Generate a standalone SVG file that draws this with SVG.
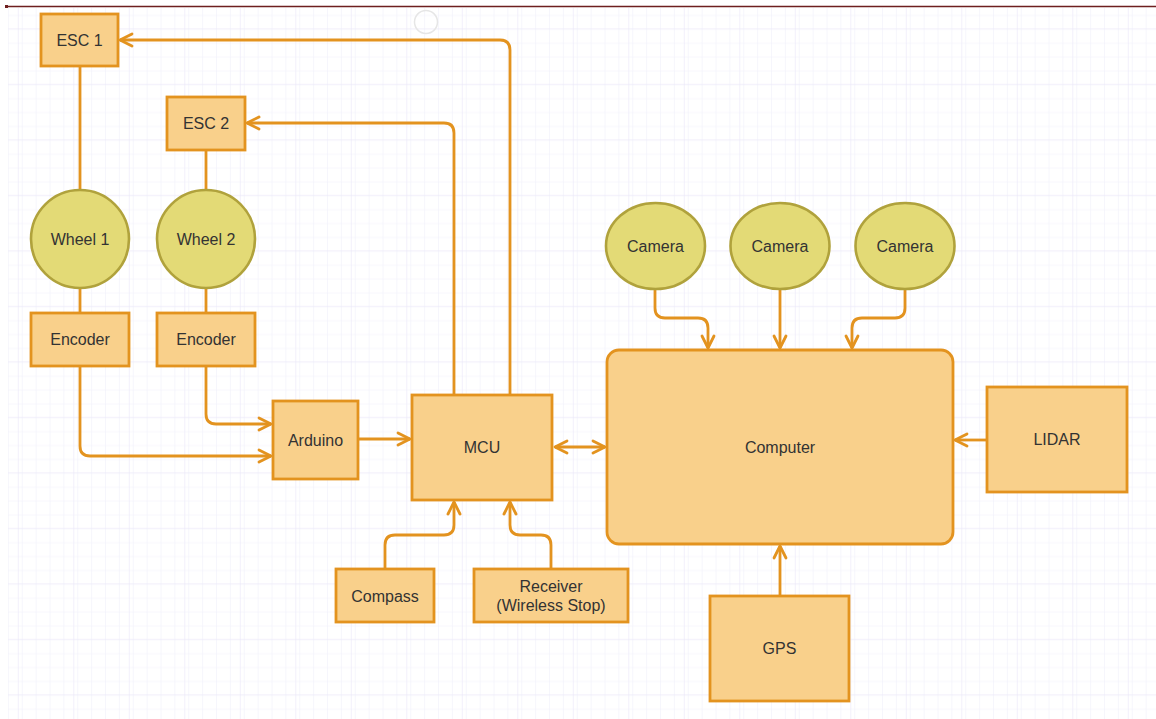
<svg xmlns="http://www.w3.org/2000/svg" width="1156" height="719" viewBox="0 0 1156 719">
  <style>
    .box { fill: #f9d08b; stroke: #e3931f; stroke-width: 2.8; }
    .round { fill: #e3da76; stroke: #b0a23c; stroke-width: 2.6; }
    .lbl { font-family: "Liberation Sans", Arial, sans-serif; font-size: 16px; fill: #333333; text-anchor: middle; dominant-baseline: central; }
    .wire { fill: none; stroke: #e3931f; stroke-width: 2.8; }
  </style>
  <defs>
    <pattern id="minor" x="17.8" y="28.3" width="13.875" height="13.875" patternUnits="userSpaceOnUse">
      <path d="M0,0 V13.875 M0,0 H13.875" fill="none" stroke="#f1f0fb" stroke-width="1.2"/>
    </pattern>
    <pattern id="major" x="17.8" y="28.3" width="55.5" height="55.5" patternUnits="userSpaceOnUse">
      <rect width="55.5" height="55.5" fill="url(#minor)"/>
      <path d="M0,0 V55.5 M0,0 H55.5" fill="none" stroke="#e9e7f8" stroke-width="1.2"/>
    </pattern>
    <marker id="open" markerUnits="userSpaceOnUse" markerWidth="30" markerHeight="30" refX="0" refY="0" orient="auto-start-reverse" overflow="visible">
      <path d="M-12,-6 L0,0 L-12,6" fill="none" stroke="#e3931f" stroke-width="2.8" stroke-linejoin="round" stroke-linecap="round"/>
    </marker>
  </defs>

  <!-- canvas -->
  <rect width="1156" height="719" fill="#ffffff"/>
  <rect x="8" y="8" width="1148" height="711" fill="url(#major)"/>
  <line x1="5" y1="6.5" x2="1156" y2="6.5" stroke="#6e1f1f" stroke-width="1.6"/>
  <rect x="5" y="5" width="3" height="3" fill="#6e1f1f"/>
  <circle cx="426" cy="22" r="11.5" fill="none" stroke="#e6e6e6" stroke-width="1.5"/>

  <!-- connectors -->
  <g id="connectors" class="wire">
    <path d="M510,395 V50 Q510,40 500,40 H120" marker-end="url(#open)"/>
    <path d="M454,395 V133 Q454,123 444,123 H247" marker-end="url(#open)"/>
    <path d="M80,67 V190"/>
    <path d="M80,288 V313"/>
    <path d="M206,150 V190"/>
    <path d="M206,288 V313"/>
    <path d="M80,366 V446 Q80,456 90,456 H271" marker-end="url(#open)"/>
    <path d="M206,366 V414 Q206,424 216,424 H271" marker-end="url(#open)"/>
    <path d="M358,439 H410" marker-end="url(#open)"/>
    <path d="M555,447 H605" marker-start="url(#open)" marker-end="url(#open)"/>
    <path d="M385,569 V545 Q385,535 395,535 H444 Q454,535 454,525 V502" marker-end="url(#open)"/>
    <path d="M551,569 V545 Q551,535 541,535 H520 Q510,535 510,525 V502" marker-end="url(#open)"/>
    <path d="M655,289 V308 Q655,318 665,318 H698 Q708,318 708,328 V348" marker-end="url(#open)"/>
    <path d="M780,289 V348" marker-end="url(#open)"/>
    <path d="M905,289 V308 Q905,318 895,318 H862 Q852,318 852,328 V348" marker-end="url(#open)"/>
    <path d="M987,440 H955" marker-end="url(#open)"/>
    <path d="M780,596 V546" marker-end="url(#open)"/>
  </g>

  <!-- nodes -->
  <g id="esc1"><rect class="box" x="41" y="14" width="77" height="52"/><text class="lbl" x="79.5" y="40">ESC 1</text></g>
  <g id="esc2"><rect class="box" x="167" y="97" width="78" height="53"/><text class="lbl" x="206" y="123.5">ESC 2</text></g>
  <g id="wheel1"><circle class="round" cx="80" cy="239" r="49"/><text class="lbl" x="80" y="239">Wheel 1</text></g>
  <g id="wheel2"><circle class="round" cx="206" cy="239" r="49"/><text class="lbl" x="206" y="239">Wheel 2</text></g>
  <g id="encoder1"><rect class="box" x="31" y="313" width="98" height="53"/><text class="lbl" x="80" y="339.5">Encoder</text></g>
  <g id="encoder2"><rect class="box" x="157" y="313" width="98" height="53"/><text class="lbl" x="206" y="339.5">Encoder</text></g>
  <g id="arduino"><rect class="box" x="273" y="401" width="85" height="78"/><text class="lbl" x="315.5" y="440">Arduino</text></g>
  <g id="mcu"><rect class="box" x="412" y="395" width="140" height="105"/><text class="lbl" x="482" y="447">MCU</text></g>
  <g id="compass"><rect class="box" x="336" y="569" width="98" height="53"/><text class="lbl" x="385" y="596">Compass</text></g>
  <g id="receiver"><rect class="box" x="474" y="569" width="154" height="53"/><text class="lbl" x="551" y="586">Receiver</text><text class="lbl" x="551" y="605.5">(Wireless Stop)</text></g>
  <g id="computer"><rect class="box" x="607" y="350" width="346" height="194" rx="12" ry="12"/><text class="lbl" x="780" y="447">Computer</text></g>
  <g id="camera1"><ellipse class="round" cx="655.5" cy="246" rx="49.5" ry="43"/><text class="lbl" x="655.5" y="246">Camera</text></g>
  <g id="camera2"><ellipse class="round" cx="780" cy="246" rx="49.5" ry="43"/><text class="lbl" x="780" y="246">Camera</text></g>
  <g id="camera3"><ellipse class="round" cx="905" cy="246" rx="49.5" ry="43"/><text class="lbl" x="905" y="246">Camera</text></g>
  <g id="lidar"><rect class="box" x="987" y="387" width="140" height="105"/><text class="lbl" x="1057" y="439.5">LIDAR</text></g>
  <g id="gps"><rect class="box" x="710" y="596" width="139" height="105"/><text class="lbl" x="779.5" y="648.5">GPS</text></g>
</svg>
